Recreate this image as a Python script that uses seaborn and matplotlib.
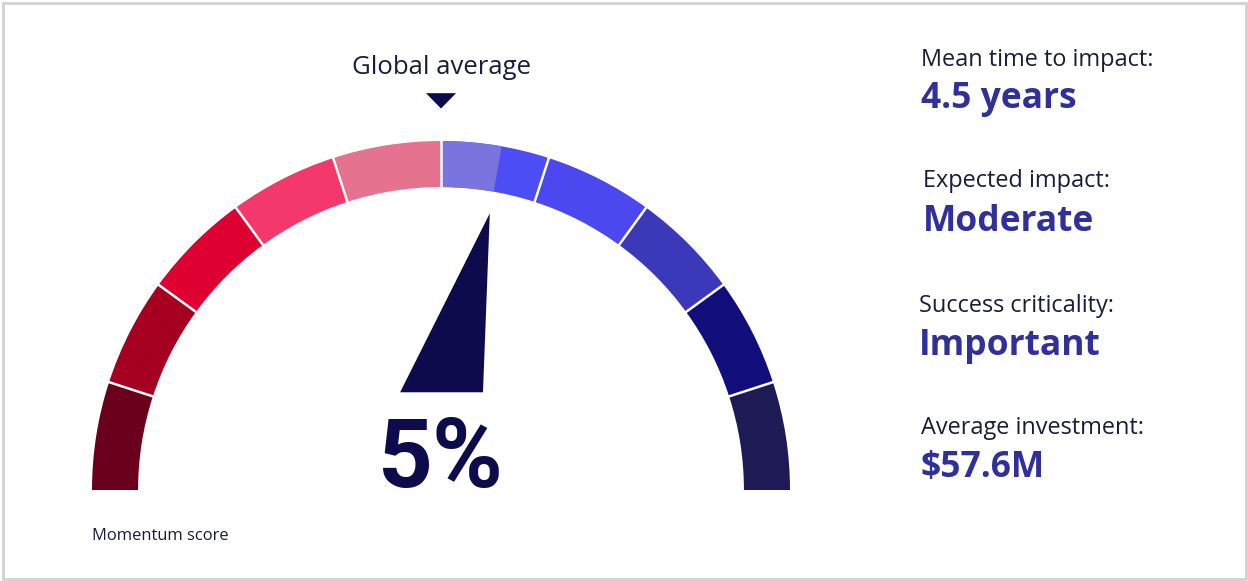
import numpy as np
import matplotlib
matplotlib.use("Agg")
import matplotlib.pyplot as plt
from matplotlib.patches import Wedge, Polygon, Rectangle
import seaborn as sns

# ---- data -------------------------------------------------------------
momentum_score = 5          # percent, relative to global average
global_average = 0          # percent
scale_min, scale_max = -45, 45
n_bands = 10
band_colors = ["#6b001c", "#a5001f", "#dd0030", "#f5386c", "#e5728f",
               "#4d4df5", "#4a48ee", "#3b38b9", "#110d7a", "#1e1a55"]
highlight_color = "#7a74df"

stat_labels = ["Mean time to impact:", "Expected impact:",
               "Success criticality:", "Average investment:"]
stat_values = ["4.5 years", "Moderate", "Important", "$57.6M"]

# ---- style ------------------------------------------------------------
sns.set_theme(style="white")
plt.rcParams["font.family"] = ["Open Sans", "DejaVu Sans"]
palette = sns.color_palette(band_colors)
navy = "#0d0b4b"
indigo = "#30309a"
label_color = "#1b1b3d"

W, H = 1248, 581
fig = plt.figure(figsize=(W / 100, H / 100), dpi=100)
ax = fig.add_axes([0, 0, 1, 1])

# gauge units: centre at origin, outer radius 1
R_px = 349.0
cx_px, cy_px = 441.0, 490.0
ax.set_xlim(-cx_px / R_px, (W - cx_px) / R_px)
ax.set_ylim(-(H - cy_px) / R_px, cy_px / R_px)
ax.set_aspect("equal")
ax.axis("off")

outer, inner = 1.0, 0.868
width = outer - inner


def to_angle(v):
    """Map a score to a gauge angle in degrees (180 = left, 0 = right)."""
    return 180 - (v - scale_min) / (scale_max - scale_min) * 180


def fy(py):
    """Figure fraction for a vertical pixel offset from the top."""
    return 1 - py / H


# coloured bands
step = 180 / n_bands
for i, col in enumerate(palette):
    a1 = 180 - (i + 1) * step
    a2 = 180 - i * step
    ax.add_patch(Wedge((0, 0), outer, a1, a2, width=width,
                       facecolor=col, edgecolor="none"))

# highlighted span between global average and score
a_val = to_angle(momentum_score)
a_avg = to_angle(global_average)
ax.add_patch(Wedge((0, 0), outer, min(a_val, a_avg), max(a_val, a_avg),
                   width=width, facecolor=highlight_color, edgecolor="none"))

# white separators between bands
for i in range(1, n_bands):
    t = np.deg2rad(180 - i * step)
    ax.plot([inner * np.cos(t) * 0.99, outer * np.cos(t) * 1.01],
            [inner * np.sin(t) * 0.99, outer * np.sin(t) * 1.01],
            color="white", lw=1.8, solid_capstyle="butt")

# needle
t = np.deg2rad(a_val)
tip = np.array([0.805 * np.cos(t), 0.805 * np.sin(t)])
base_y = 0.28
needle = Polygon([[tip[0] - 0.257, base_y], [tip[0] - 0.0195, base_y], tip],
                 closed=True, facecolor=navy, edgecolor="none")
ax.add_patch(needle)

# global average marker
ta = np.deg2rad(a_avg)
mx, my = 1.115 * np.cos(ta), 1.115 * np.sin(ta)
ax.add_patch(Polygon([[mx - 0.043, my + 0.022], [mx + 0.043, my + 0.022],
                      [mx, my - 0.022]], closed=True,
                     facecolor=navy, edgecolor="none"))
fig.text(cx_px / W, fy(74), "Global average", ha="center", va="baseline",
         fontsize=18.5, color=label_color)

# score readout
fig.text(cx_px / W, fy(487), f"{momentum_score}%", ha="center",
         va="baseline", fontsize=69, fontweight="bold", color=navy,
         family=["Liberation Sans Narrow", "Roboto", "DejaVu Sans"])
fig.text(92 / W, fy(540), "Momentum score", ha="left", va="baseline",
         fontsize=11.9, color=label_color)

# key statistics
label_y = [66, 187, 312, 434]
value_y = [108, 231, 355, 477]
xs = [921, 923, 919, 921]
for lab, val, ly, vy, x in zip(stat_labels, stat_values, label_y, value_y, xs):
    fig.text(x / W, fy(ly), lab, ha="left", va="baseline",
             fontsize=16.9, color=label_color)
    fig.text(x / W, fy(vy), val, ha="left", va="baseline",
             fontsize=25.5, fontweight="bold", color=indigo)

# card border
fig.add_artist(Rectangle((3 / W, 2 / H), 1243 / W, 576 / H,
                         transform=fig.transFigure, fill=False,
                         edgecolor="#d2d2d2", lw=2))

fig.savefig("out.png", dpi=100, facecolor="white")
